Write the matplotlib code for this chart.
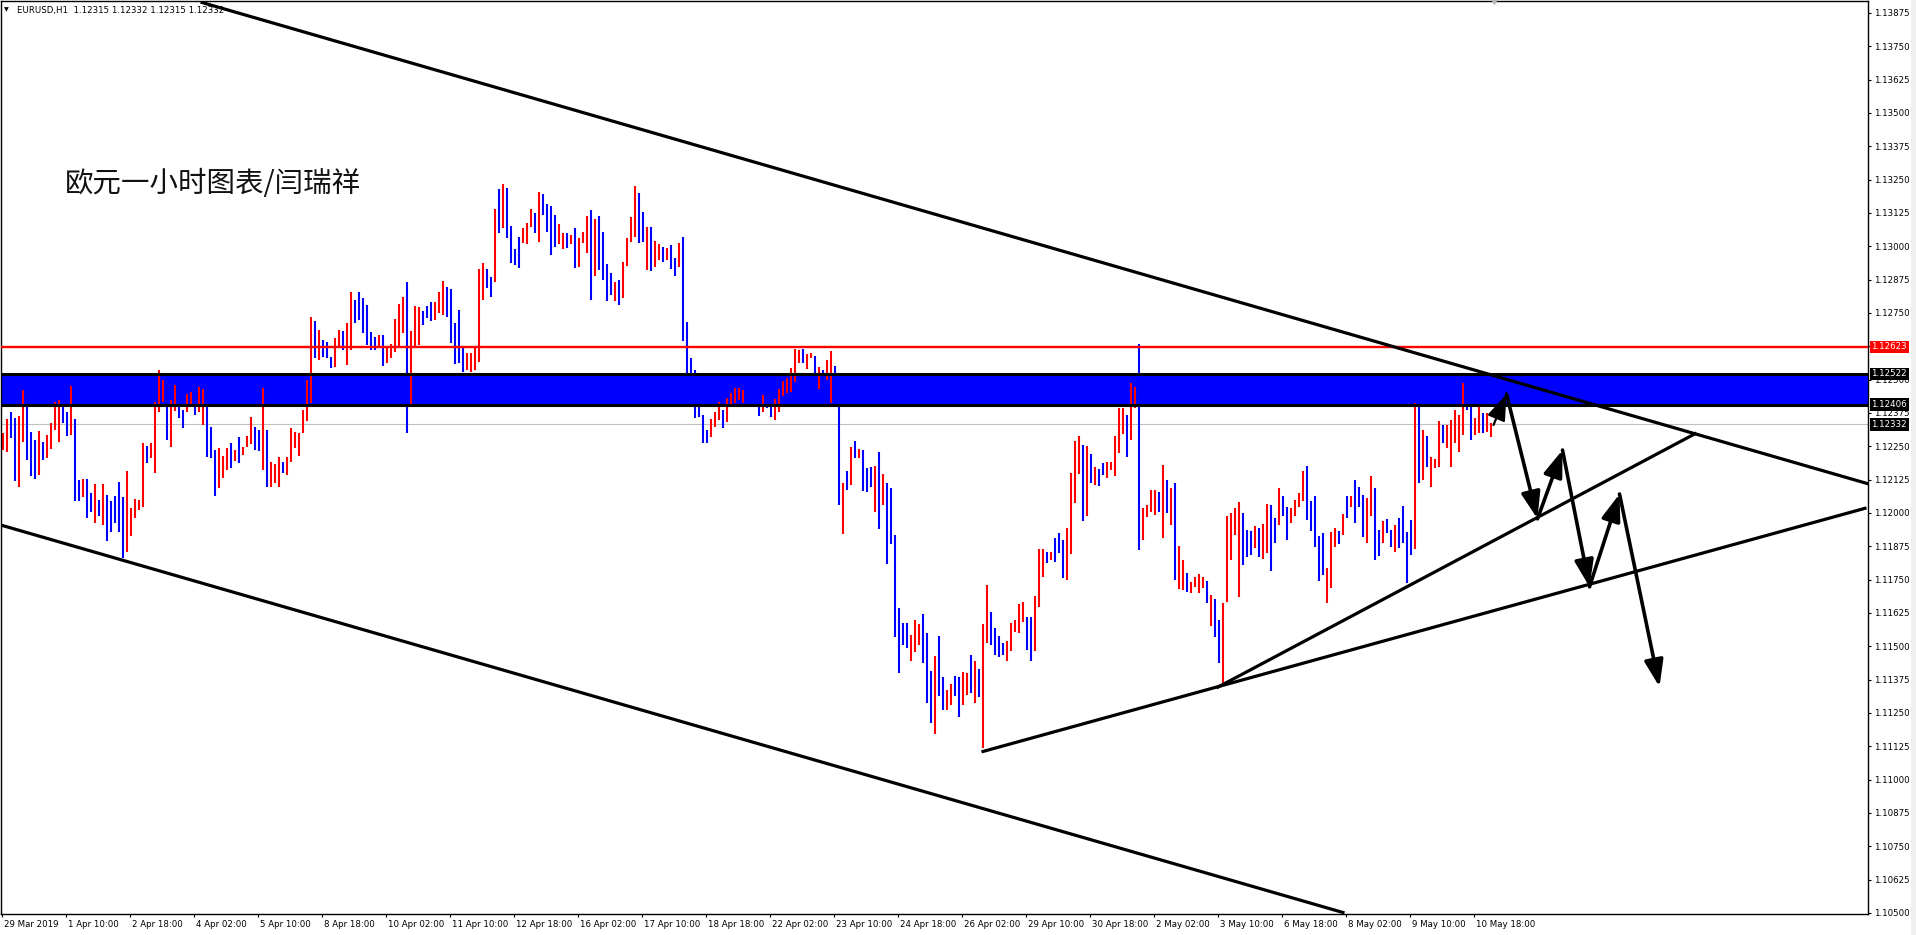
"""EURUSD H1 chart with channel lines, resistance box and projected path arrows."""

import matplotlib

matplotlib.use("Agg")
import matplotlib.pyplot as plt
import matplotlib.transforms as mtransforms
from matplotlib.patches import Rectangle

# two-hour bars (index k covers hours 2k, 2k+1 from 29 Mar 02:00)
HIGH = [
    1.12299, 1.12352, 1.12380, 1.12355, 1.12362, 1.12462, 1.12399, 1.12305, 1.12274, 1.12309,
    1.12268, 1.12293, 1.12337, 1.12418, 1.12424, 1.12495, 1.12380, 1.12477, 1.12352, 1.12124,
    1.12127, 1.12127, 1.12074, 1.12109, 1.12049, 1.12109, 1.12068, 1.12043, 1.12062, 1.12117,
    1.12059, 1.12158, 1.12018, 1.12052, 1.12049, 1.12262, 1.12252, 1.12262, 1.12418, 1.12536,
    1.12499, 1.12405, 1.12424, 1.12480, 1.12412, 1.12387, 1.12447, 1.12452, 1.12422, 1.12474,
    1.12465, 1.12399, 1.12322, 1.12237, 1.12243, 1.12212, 1.12243, 1.12264, 1.12237, 1.12284,
    1.12249, 1.12287, 1.12359, 1.12324, 1.12312, 1.12467, 1.12311, 1.12192, 1.12183, 1.12208,
    1.12192, 1.12211, 1.12317, 1.12305, 1.12299, 1.12386, 1.12499, 1.12736, 1.12721, 1.12686,
    1.12649, 1.12642, 1.12586, 1.12655, 1.12686, 1.12684, 1.12711, 1.12830, 1.12799, 1.12827,
    1.12805, 1.12780, 1.12680, 1.12661, 1.12667, 1.12667, 1.12624, 1.12634, 1.12727, 1.12784,
    1.12811, 1.12867, 1.12682, 1.12776, 1.12774, 1.12759, 1.12776, 1.12790, 1.12792, 1.12829,
    1.12870, 1.12849, 1.12840, 1.12714, 1.12761, 1.12617, 1.12601, 1.12599, 1.12624, 1.12915,
    1.12939, 1.12914, 1.12886, 1.13139, 1.13214, 1.13234, 1.13217, 1.13076, 1.12990, 1.13036,
    1.13067, 1.13089, 1.13139, 1.13124, 1.13202, 1.13196, 1.13159, 1.13152, 1.13117, 1.13084,
    1.13049, 1.13049, 1.13042, 1.13067, 1.13030, 1.13055, 1.13114, 1.13136, 1.13102, 1.13114,
    1.13055, 1.12934, 1.12899, 1.12866, 1.12874, 1.12942, 1.13030, 1.13111, 1.13227, 1.13199,
    1.13127, 1.13074, 1.13074, 1.13021, 1.13009, 1.12999, 1.12995, 1.13005, 1.12957, 1.13011,
    1.13036, 1.12717, 1.12582, 1.12536, 1.12399, 1.12367, 1.12311, 1.12351, 1.12380, 1.12417,
    1.12386, 1.12432, 1.12451, 1.12467, 1.12467, 1.12461, 1.12474, 1.12436, 1.12455, 1.12411,
    1.12443, 1.12418, 1.12405, 1.12427, 1.12465, 1.12495, 1.12505, 1.12543, 1.12615, 1.12612,
    1.12615, 1.12597, 1.12599, 1.12587, 1.12549, 1.12537, 1.12574, 1.12608, 1.12552, 1.12399,
    1.12114, 1.12159, 1.12247, 1.12270, 1.12240, 1.12237, 1.12168, 1.12174, 1.12177, 1.12228,
    1.12147, 1.12112, 1.12095, 1.11918, 1.11645, 1.11587, 1.11589, 1.11543, 1.11599, 1.11584,
    1.11622, 1.11549, 1.11408, 1.11464, 1.11539, 1.11384, 1.11336, 1.11359, 1.11389, 1.11384,
    1.11405, 1.11399, 1.11468, 1.11443, 1.11414, 1.11584, 1.11730, 1.11630, 1.11568, 1.11537,
    1.11512, 1.11518, 1.11586, 1.11599, 1.11659, 1.11667, 1.11611, 1.11611, 1.11689, 1.11864,
    1.11864, 1.11855, 1.11855, 1.11905, 1.11924, 1.11899, 1.11942, 1.12149, 1.12271, 1.12289,
    1.12255, 1.12251, 1.12221, 1.12174, 1.12164, 1.12186, 1.12192, 1.12192, 1.12289, 1.12392,
    1.12392, 1.12367, 1.12489, 1.12474, 1.12634, 1.12017, 1.12030, 1.12086, 1.12086, 1.12077,
    1.12180, 1.12124, 1.12092, 1.12111, 1.11876, 1.11824, 1.11774, 1.11740, 1.11759, 1.11770,
    1.11761, 1.11745, 1.11692, 1.11676, 1.11599, 1.11661, 1.11989, 1.11999, 1.12017, 1.12042,
    1.11999, 1.11936, 1.11934, 1.11951, 1.11942, 1.11959, 1.12034, 1.12030, 1.11980, 1.12093,
    1.12062, 1.12024, 1.12018, 1.12047, 1.12074, 1.12158, 1.12177, 1.12043, 1.12062, 1.11912,
    1.11924, 1.11793, 1.11930, 1.11943, 1.11933, 1.11997, 1.12062, 1.12064, 1.12124, 1.12099,
    1.12068, 1.12055, 1.12137, 1.12093, 1.11937, 1.11968, 1.11977, 1.11937, 1.11955, 1.11980,
    1.12027, 1.11930, 1.11974, 1.12414, 1.12399, 1.12312, 1.12287, 1.12209, 1.12202, 1.12345,
    1.12330, 1.12330, 1.12349, 1.12387, 1.12368, 1.12489, 1.12412, 1.12412, 1.12355, 1.12405,
    1.12374, 1.12374, 1.12337,
]
LOW = [
    1.12237, 1.12227, 1.12280, 1.12118, 1.12099, 1.12268, 1.12199, 1.12139, 1.12127, 1.12143,
    1.12197, 1.12205, 1.12239, 1.12312, 1.12268, 1.12337, 1.12287, 1.12293, 1.12043, 1.12043,
    1.12059, 1.11980, 1.12002, 1.11964, 1.11987, 1.11955, 1.11896, 1.11927, 1.11964, 1.11930,
    1.11830, 1.11853, 1.11912, 1.11980, 1.12012, 1.12024, 1.12189, 1.12205, 1.12149, 1.12380,
    1.12418, 1.12274, 1.12246, 1.12384, 1.12355, 1.12318, 1.12380, 1.12399, 1.12368, 1.12380,
    1.12330, 1.12209, 1.12205, 1.12062, 1.12093, 1.12130, 1.12162, 1.12168, 1.12193, 1.12187,
    1.12218, 1.12246, 1.12259, 1.12237, 1.12234, 1.12161, 1.12096, 1.12099, 1.12111, 1.12099,
    1.12149, 1.12142, 1.12192, 1.12242, 1.12214, 1.12299, 1.12346, 1.12411, 1.12580, 1.12574,
    1.12586, 1.12580, 1.12542, 1.12549, 1.12624, 1.12611, 1.12555, 1.12611, 1.12711, 1.12724,
    1.12674, 1.12630, 1.12611, 1.12611, 1.12617, 1.12551, 1.12561, 1.12580, 1.12605, 1.12617,
    1.12674, 1.12299, 1.12399, 1.12617, 1.12630, 1.12705, 1.12730, 1.12721, 1.12724, 1.12749,
    1.12742, 1.12736, 1.12636, 1.12557, 1.12561, 1.12530, 1.12536, 1.12530, 1.12536, 1.12567,
    1.12799, 1.12842, 1.12809, 1.12867, 1.13049, 1.13067, 1.13030, 1.12939, 1.12930, 1.12920,
    1.13011, 1.13009, 1.13074, 1.13051, 1.13017, 1.13117, 1.13055, 1.12967, 1.12999, 1.13009,
    1.12990, 1.12992, 1.13009, 1.12920, 1.12924, 1.13014, 1.12976, 1.12799, 1.12889, 1.12911,
    1.12874, 1.12796, 1.12817, 1.12796, 1.12780, 1.12807, 1.12926, 1.13017, 1.13036, 1.13014,
    1.13017, 1.12911, 1.12909, 1.12924, 1.12949, 1.12942, 1.12949, 1.12915, 1.12890, 1.12924,
    1.12646, 1.12486, 1.12486, 1.12355, 1.12361, 1.12264, 1.12264, 1.12284, 1.12324, 1.12349,
    1.12317, 1.12342, 1.12405, 1.12411, 1.12424, 1.12411, 1.12411, 1.12405, 1.12405, 1.12364,
    1.12380, 1.12393, 1.12359, 1.12349, 1.12380, 1.12437, 1.12449, 1.12455, 1.12493, 1.12564,
    1.12561, 1.12539, 1.12580, 1.12439, 1.12464, 1.12487, 1.12499, 1.12412, 1.12399, 1.12030,
    1.11922, 1.12087, 1.12105, 1.12205, 1.12205, 1.12084, 1.12080, 1.12099, 1.12002, 1.11940,
    1.12030, 1.11809, 1.11884, 1.11533, 1.11401, 1.11505, 1.11495, 1.11443, 1.11480, 1.11505,
    1.11439, 1.11286, 1.11214, 1.11171, 1.11314, 1.11261, 1.11261, 1.11280, 1.11314, 1.11236,
    1.11280, 1.11318, 1.11324, 1.11289, 1.11311, 1.11118, 1.11511, 1.11505, 1.11468, 1.11461,
    1.11468, 1.11443, 1.11484, 1.11555, 1.11549, 1.11592, 1.11486, 1.11446, 1.11484, 1.11646,
    1.11759, 1.11811, 1.11824, 1.11817, 1.11851, 1.11755, 1.11749, 1.11846, 1.12036, 1.12146,
    1.11971, 1.11989, 1.12111, 1.12105, 1.12101, 1.12142, 1.12130, 1.12161, 1.12139, 1.12224,
    1.12296, 1.12211, 1.12274, 1.12392, 1.11861, 1.11899, 1.11986, 1.12005, 1.11992, 1.12005,
    1.11905, 1.12001, 1.11955, 1.11749, 1.11714, 1.11711, 1.11705, 1.11701, 1.11724, 1.11699,
    1.11717, 1.11664, 1.11576, 1.11536, 1.11436, 1.11355, 1.11667, 1.11824, 1.11917, 1.11686,
    1.11805, 1.11836, 1.11842, 1.11867, 1.11834, 1.11827, 1.11849, 1.11784, 1.11889, 1.11955,
    1.11987, 1.11899, 1.11962, 1.11987, 1.12024, 1.12043, 1.11974, 1.11934, 1.11874, 1.11743,
    1.11768, 1.11664, 1.11718, 1.11874, 1.11884, 1.11918, 1.11980, 1.12024, 1.11962, 1.12024,
    1.11909, 1.11887, 1.11987, 1.11824, 1.11837, 1.11887, 1.11924, 1.11874, 1.11855, 1.11868,
    1.11887, 1.11739, 1.11843, 1.11864, 1.12112, 1.12124, 1.12174, 1.12097, 1.12168, 1.12174,
    1.12262, 1.12243, 1.12172, 1.12262, 1.12230, 1.12293, 1.12387, 1.12274, 1.12293, 1.12299,
    1.12299, 1.12305, 1.12284,
]
# r = up bar, b = down bar
DIRECTION = (
    "rrbbrrbbbr" "brrrrbbrbb" "rbbrbrbbbb" "brrrrrbrrr" "rbrrbbrrbr" "rbbbrrrbrb" "rrrbb"
    "rbrrr" "brrrrrrrbr" "bbbrrbrrbb" "bbbbrbrrrr" "rbrrrbbbrr" "rbbbbbrrrr" "rbbrbrbb" "bb"
    "rrrbrbbbbr" "rbrbrrrbrb" "bbbrbrrrrb" "brbrrbrbbr" "bbbbbbbrrr" "brrrrrbbbb"
    "rbbrrrrrrr" "brrbrbrrbb" "rbrbrbbbrb" "rbbbbbbrrr" "bbbrbbrrbb" "rrbrbrrbbb"
    "brrrrrbbrr" "rbrbbbrrrr" "brbrbbrrrr" "rbrrbrrrrb" "rbrbrrbrrr" "rbrbbrrrrr"
    "bbbrb" "rrbbr" "bbrrrrbbbb" "brrrbrbrbb" "brrbbrbbrb" "bbbrbrbrrr" "brrrrrbbrr" "brr"
)

TIME_LABELS = [
    "29 Mar 2019", "1 Apr 10:00", "2 Apr 18:00", "4 Apr 02:00", "5 Apr 10:00", "8 Apr 18:00",
    "10 Apr 02:00", "11 Apr 10:00", "12 Apr 18:00", "16 Apr 02:00", "17 Apr 10:00",
    "18 Apr 18:00", "22 Apr 02:00", "23 Apr 10:00", "24 Apr 18:00", "26 Apr 02:00",
    "29 Apr 10:00", "30 Apr 18:00", "2 May 02:00", "3 May 10:00", "6 May 18:00",
    "8 May 02:00", "9 May 10:00", "10 May 18:00",
]
HOURS_PER_LABEL = 32

RESISTANCE_LINE = 1.12623
BOX_TOP = 1.12522
BOX_BOTTOM = 1.12406
LAST_PRICE = 1.12332

# trend lines as (hour index, price) anchor pairs
TRENDLINES = [
    ((99.5, 1.13916), (933.5, 1.12109)),
    ((-0.5, 1.11955), (671.5, 1.10500)),
    ((490.0, 1.11104), (932.5, 1.12019)),
    ((607.5, 1.11344), (847.5, 1.12300)),
]
# projected zig-zag path drawn as arrows
ARROW_PATH = [
    (746.0, 1.12330), (752.5, 1.12446), (768.0, 1.11978), (780.5, 1.12236),
    (794.0, 1.11723), (809.0, 1.12071), (829.0, 1.11348),
]

RED = "#ff0000"
BLUE = "#0000ff"
COLORS = {"r": RED, "b": BLUE, "k": "black"}

W, H = 1916, 935
fig = plt.figure(figsize=(W / 100, H / 100), dpi=100, facecolor="white")
ax = fig.add_axes([0.5 / W, 21 / H, 1867 / W, 913 / H])
fig.patches.append(Rectangle((1911 / W, 0), 5 / W, 1, transform=fig.transFigure,
                             facecolor="#f0f0f0", edgecolor="none"))

x = [2 * k + 0.5 for k in range(len(HIGH))]
ax.vlines(x, LOW, HIGH, colors=[COLORS[c] for c in DIRECTION], linewidth=1.5, zorder=2)

ax.axhspan(BOX_BOTTOM, BOX_TOP, color=BLUE, linewidth=0, zorder=1)
for level in (BOX_TOP, BOX_BOTTOM):
    ax.axhline(level, color="black", linewidth=2.2, zorder=3)
ax.axhline(RESISTANCE_LINE, color=RED, linewidth=1.7, zorder=3)
ax.axhline(LAST_PRICE, color="#c0c0c0", linewidth=0.8, zorder=1.5)

for (x0, p0), (x1, p1) in TRENDLINES:
    ax.plot([x0, x1], [p0, p1], color="black", linewidth=2.3, solid_capstyle="butt", zorder=4)

for i, (start, end) in enumerate(zip(ARROW_PATH[:-1], ARROW_PATH[1:])):
    lw = 1.6 if i == 0 else 2.6
    ax.annotate("", xy=end, xytext=start, zorder=5,
                arrowprops=dict(arrowstyle="-|>,head_length=0.9,head_width=0.32", color="black",
                                lw=lw, mutation_scale=18, shrinkA=0, shrinkB=0))

ax.set_xlim(-0.5, 933)
ax.set_ylim(1.10496, 1.13920)

# right price scale
yticks = [1.105 + 0.00125 * i for i in range(28)]
ax.yaxis.tick_right()
ax.set_yticks(yticks, labels=[f"{v:.5f}" for v in yticks])
ax.set_xticks([HOURS_PER_LABEL * i for i in range(len(TIME_LABELS))], labels=TIME_LABELS)
ax.tick_params(axis="both", labelsize=6.2, length=2.5, width=0.8, color="black", pad=2)
shift = mtransforms.ScaledTranslation(2 / 100, 0, fig.dpi_scale_trans)
for label in ax.get_xticklabels():
    label.set_horizontalalignment("left")
    label.set_transform(label.get_transform() + shift)
for spine in ax.spines.values():
    spine.set_linewidth(1.0)
    spine.set_color("black")

tag = mtransforms.blended_transform_factory(ax.transAxes, ax.transData) + \
    mtransforms.ScaledTranslation(4 / 100, 0, fig.dpi_scale_trans)
for price, face in ((RESISTANCE_LINE, RED), (BOX_TOP, "black"), (BOX_BOTTOM, "black"),
                    (LAST_PRICE, "black")):
    ax.text(1.0, price, f"{price:.5f}", transform=tag, ha="left", va="center", fontsize=6.2,
            color="white", clip_on=False, zorder=6,
            bbox=dict(boxstyle="square,pad=0.2", facecolor=face, edgecolor="none"))

# chart shift marker and header
ax.plot([746], [1.0], marker="v", markersize=5, color="#b8b8b8",
        transform=mtransforms.blended_transform_factory(ax.transData, ax.transAxes),
        clip_on=False, zorder=6)
fig.text(4 / W, 1 - 10 / H, "▼", fontsize=4.5, va="center", ha="left")
fig.text(17 / W, 1 - 10 / H, "EURUSD,H1  1.12315 1.12332 1.12315 1.12332",
         fontsize=6.2, va="center", ha="left")
ax.text(64 / 1867, 1 - 183 / 913, "欧元一小时图表/闫瑞祥", transform=ax.transAxes,
        fontsize=20.5, va="center", ha="left", color="#111111",
        family=["Noto Sans CJK SC", "DejaVu Sans"])

fig.savefig("out.png", dpi=100, facecolor="white")
